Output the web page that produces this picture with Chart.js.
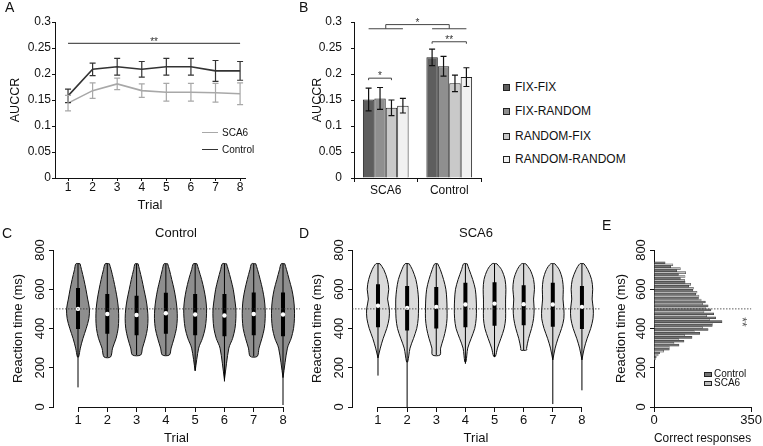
<!DOCTYPE html>
<html>
<head>
<meta charset="utf-8">
<title>AUCCR and reaction times</title>
<script src="https://cdn.jsdelivr.net/npm/chart.js@4.4.1/dist/chart.umd.min.js"></script>
<style>
  body { margin: 0; background: #fff; }
  #fig { position: relative; width: 763px; height: 446px; overflow: hidden; font-family: "Liberation Sans", Arial, sans-serif; color: #111; }
  #fig canvas { position: absolute; }
  .lbl { position: absolute; white-space: nowrap; line-height: 1; }
  .letter { font-size: 14px; }
  .ttl { font-size: 13px; transform: translateX(-50%); }
  .key { position: absolute; white-space: nowrap; line-height: 1; }
  .sw { position: absolute; border: 1px solid #222; box-sizing: border-box; }
</style>
</head>
<body>
<div id="fig">
  <canvas id="chartA" width="262" height="215" style="left:0;top:0"></canvas>
  <canvas id="chartB" width="190" height="215" style="left:300px;top:0"></canvas>
  <canvas id="chartC" width="305" height="231" style="left:0;top:215px"></canvas>
  <canvas id="chartD" width="305" height="231" style="left:300px;top:215px"></canvas>
  <canvas id="chartE" width="163" height="231" style="left:600px;top:215px"></canvas>

  <div class="lbl letter" style="left:5px;top:0">A</div>
  <div class="lbl letter" style="left:299px;top:0">B</div>
  <div class="lbl letter" style="left:2px;top:226px">C</div>
  <div class="lbl letter" style="left:299px;top:226px">D</div>
  <div class="lbl letter" style="left:602px;top:218px">E</div>
  <div class="lbl ttl" style="left:176px;top:226px">Control</div>
  <div class="lbl ttl" style="left:476px;top:226px">SCA6</div>
  <div id="legendA"></div>
  <div id="legendB"></div>
  <div id="legendE"></div>
  <div class="lbl" style="left:737px;top:316px;font-size:12px;color:#555;transform:rotate(90deg)">**</div>
</div>
<script>
const trials = [1, 2, 3, 4, 5, 6, 7, 8];

// A: AUCCR per trial
const aucControl = [0.158, 0.209, 0.214, 0.209, 0.214, 0.214, 0.206, 0.206];
const aucControlErr = [0.013, 0.012, 0.016, 0.015, 0.016, 0.016, 0.020, 0.018];
const aucSca6 = [0.144, 0.168, 0.181, 0.168, 0.165, 0.165, 0.164, 0.162];
const aucSca6Err = [0.015, 0.015, 0.011, 0.013, 0.017, 0.017, 0.018, 0.021];
const sigA = { from: 1, to: 8, level: 0.259, text: '**' };

// B: AUCCR per condition
const groups = ['SCA6', 'Control'];
const conditions = ['FIX-FIX', 'FIX-RANDOM', 'RANDOM-FIX', 'RANDOM-RANDOM'];
const fixFix = [0.151, 0.232];
const fixRandom = [0.153, 0.215];
const randomFix = [0.135, 0.182];
const randomRandom = [0.139, 0.194];
const fixFixErr = [0.022, 0.016];
const fixRandomErr = [0.021, 0.019];
const randomFixErr = [0.015, 0.016];
const randomRandomErr = [0.014, 0.018];

// C, D: reaction time violins
const rtLevels = [730, 700, 650, 600, 550, 500, 450, 400, 350, 300];
const controlWidth = [
  [0.07, 0.12, 0.20, 0.27, 0.33, 0.39, 0.37, 0.28, 0.17, 0.08],
  [0.07, 0.13, 0.21, 0.28, 0.34, 0.38, 0.39, 0.37, 0.30, 0.18],
  [0.05, 0.10, 0.18, 0.25, 0.32, 0.37, 0.39, 0.37, 0.30, 0.20],
  [0.06, 0.12, 0.20, 0.28, 0.34, 0.38, 0.39, 0.36, 0.28, 0.18],
  [0.06, 0.12, 0.22, 0.30, 0.36, 0.39, 0.38, 0.34, 0.25, 0.12],
  [0.07, 0.13, 0.22, 0.30, 0.35, 0.39, 0.39, 0.36, 0.28, 0.15],
  [0.07, 0.13, 0.22, 0.30, 0.36, 0.39, 0.39, 0.36, 0.28, 0.18],
  [0.06, 0.12, 0.21, 0.30, 0.36, 0.39, 0.39, 0.36, 0.28, 0.15]
];
const controlBase = [255, 255, 265, 265, 185, 140, 258, 150];
const controlBaseWidth = [0.02, 0.11, 0.14, 0.12, 0, 0, 0.12, 0];
const controlMin = [100, 255, 265, 265, 185, 130, 258, 10];
const controlQ1 = [398, 373, 365, 373, 365, 360, 365, 360];
const controlMedian = [500, 474, 469, 478, 471, 466, 474, 471];
const controlQ3 = [606, 576, 567, 582, 576, 576, 583, 583];

const sca6Width = [
  [0.07, 0.20, 0.32, 0.37, 0.33, 0.39, 0.38, 0.30, 0.18, 0.08],
  [0.07, 0.18, 0.30, 0.36, 0.39, 0.39, 0.38, 0.33, 0.22, 0.10],
  [0.05, 0.14, 0.25, 0.33, 0.36, 0.37, 0.37, 0.33, 0.25, 0.15],
  [0.06, 0.13, 0.25, 0.34, 0.37, 0.38, 0.37, 0.32, 0.20, 0.08],
  [0.08, 0.24, 0.36, 0.39, 0.38, 0.38, 0.38, 0.33, 0.22, 0.10],
  [0.07, 0.22, 0.34, 0.37, 0.34, 0.36, 0.34, 0.27, 0.17, 0.10],
  [0.07, 0.22, 0.33, 0.36, 0.35, 0.38, 0.38, 0.30, 0.18, 0.08],
  [0.07, 0.20, 0.33, 0.37, 0.35, 0.39, 0.38, 0.30, 0.18, 0.08]
];
const sca6Base = [250, 230, 265, 230, 258, 290, 240, 240];
const sca6BaseWidth = [0, 0.02, 0.13, 0.02, 0.03, 0.10, 0, 0];
const sca6Min = [160, 0, 265, 220, 255, 290, 15, 85];
const sca6Q1 = [406, 390, 400, 406, 414, 416, 409, 397];
const sca6Median = [516, 505, 510, 522, 527, 524, 522, 510];
const sca6Q3 = [626, 616, 612, 633, 636, 621, 633, 616];
const refRT = 500;

// E: histogram of correct responses
const rtBins = [250, 270, 290, 310, 330, 350, 370, 390, 410, 430, 450, 470, 490,
                510, 530, 550, 570, 590, 610, 630, 650, 670, 690, 710, 730];
const histControl = [8, 20, 55, 90, 108, 137, 165, 195, 210, 245, 222, 215, 205,
                     195, 185, 160, 150, 140, 125, 112, 95, 88, 82, 60, 40];
const histSca6 = [5, 15, 35, 55, 72, 88, 110, 145, 175, 210, 200, 190, 180,
                  185, 175, 170, 162, 155, 142, 132, 110, 112, 114, 95, 68];

const FONT = 'Liberation Sans, Arial, sans-serif';
const INK = '#111';
Chart.defaults.font.family = FONT;
Chart.defaults.color = INK;

// error bars for datasets that carry an "errors" array
const errorBars = {
  id: 'errorBars',
  afterDatasetsDraw(chart) {
    const ctx = chart.ctx, y = chart.scales.y;
    chart.data.datasets.forEach((ds, i) => {
      if (!ds.errors) return;
      chart.getDatasetMeta(i).data.forEach((el, j) => {
        const d = ds.data[j];
        const v = typeof d === 'object' ? d.y : d;
        const top = y.getPixelForValue(v + ds.errors[j]);
        const bot = y.getPixelForValue(v - ds.errors[j]);
        ctx.save();
        ctx.strokeStyle = ds.errorColor || '#111';
        ctx.lineWidth = 1.2;
        ctx.beginPath();
        ctx.moveTo(el.x, top); ctx.lineTo(el.x, bot);
        ctx.moveTo(el.x - 3, top); ctx.lineTo(el.x + 3, top);
        ctx.moveTo(el.x - 3, bot); ctx.lineTo(el.x + 3, bot);
        ctx.stroke();
        ctx.restore();
      });
    });
  }
};

function star(ctx, text, x, y) {
  ctx.fillStyle = '#333';
  ctx.font = '10px ' + FONT;
  ctx.textAlign = 'center';
  ctx.textBaseline = 'alphabetic';
  ctx.fillText(text, x, y);
}

const sigLineA = {
  id: 'sigLineA',
  afterDraw(chart) {
    const ctx = chart.ctx, x = chart.scales.x, y = chart.scales.y;
    const yy = y.getPixelForValue(sigA.level);
    ctx.save();
    ctx.strokeStyle = '#555';
    ctx.lineWidth = 1.3;
    ctx.beginPath();
    ctx.moveTo(x.getPixelForValue(sigA.from), yy);
    ctx.lineTo(x.getPixelForValue(sigA.to), yy);
    ctx.stroke();
    star(ctx, sigA.text, (x.getPixelForValue(sigA.from) + x.getPixelForValue(sigA.to)) / 2, yy + 2);
    ctx.restore();
  }
};

// brackets in B: within-group pairs and the group-vs-group bracket
const bPairs = [
  { group: 0, from: 0, to: 2, level: 0.192, text: '*' },
  { group: 1, from: 0, to: 3, level: 0.262, text: '**' }
];
const bGroupLevel = 0.287, bGroupTop = 0.295;

const sigBrackets = {
  id: 'sigBrackets',
  afterDraw(chart) {
    const ctx = chart.ctx, y = chart.scales.y;
    const barX = (ds, g) => chart.getDatasetMeta(ds).data[g].x;
    ctx.save();
    ctx.strokeStyle = '#444';
    ctx.lineWidth = 1;
    bPairs.forEach(p => {
      const x1 = barX(p.from, p.group), x2 = barX(p.to, p.group), yy = y.getPixelForValue(p.level);
      ctx.beginPath();
      ctx.moveTo(x1, yy + 2); ctx.lineTo(x1, yy); ctx.lineTo(x2, yy); ctx.lineTo(x2, yy + 2);
      ctx.stroke();
      star(ctx, p.text, (x1 + x2) / 2, yy + 1);
    });
    const yl = y.getPixelForValue(bGroupLevel), yt = y.getPixelForValue(bGroupTop);
    const mids = groups.map((g, gi) => {
      const x1 = barX(0, gi), x2 = barX(3, gi);
      ctx.beginPath(); ctx.moveTo(x1, yl); ctx.lineTo(x2, yl); ctx.stroke();
      return (x1 + x2) / 2;
    });
    ctx.beginPath();
    ctx.moveTo(mids[0], yl); ctx.lineTo(mids[0], yt); ctx.lineTo(mids[1], yt); ctx.lineTo(mids[1], yl);
    ctx.stroke();
    star(ctx, '*', (mids[0] + mids[1]) / 2, yt + 1);
    ctx.restore();
  }
};

// dotted reference line at refRT
const refLine = {
  id: 'refLine',
  afterDatasetsDraw(chart) {
    const ctx = chart.ctx, a = chart.chartArea, yy = chart.scales.y.getPixelForValue(refRT);
    ctx.save();
    ctx.strokeStyle = '#333';
    ctx.lineWidth = 0.8;
    ctx.setLineDash([1.5, 1.5]);
    ctx.beginPath(); ctx.moveTo(a.left, yy); ctx.lineTo(a.right, yy); ctx.stroke();
    ctx.restore();
  }
};

// R-style x axis line running from first to last trial
const trialAxis = {
  id: 'trialAxis',
  afterDraw(chart) {
    const ctx = chart.ctx, x = chart.scales.x, y = chart.scales.y;
    ctx.save();
    ctx.strokeStyle = INK;
    ctx.lineWidth = 1;
    ctx.beginPath();
    ctx.moveTo(x.getPixelForValue(trials[0]), y.bottom + 0.5);
    ctx.lineTo(x.getPixelForValue(trials[trials.length - 1]), y.bottom + 0.5);
    ctx.stroke();
    ctx.restore();
  }
};

const noPlugins = { legend: { display: false }, tooltip: { enabled: false } };

function aucAxes(yWidth, tickPad, titlePad) {
  return {
    min: 0, max: 0.3,
    ticks: { stepSize: 0.05, callback: v => String(+v.toFixed(2)), font: { size: 12 }, padding: tickPad },
    grid: { drawOnChartArea: false, tickLength: 3, color: INK },
    border: { color: INK },
    title: { display: true, text: 'AUCCR', font: { size: 12.5 }, padding: { top: titlePad, bottom: 0 } },
    afterFit: s => { s.width = yWidth; }
  };
}

// ---- A ----
new Chart(document.getElementById('chartA'), {
  type: 'scatter',
  data: {
    datasets: [
      { label: 'Control', data: trials.map((t, i) => ({ x: t, y: aucControl[i] })), errors: aucControlErr,
        errorColor: '#333', showLine: true, borderColor: '#333', borderWidth: 1.6, pointRadius: 0 },
      { label: 'SCA6', data: trials.map((t, i) => ({ x: t, y: aucSca6[i] })), errors: aucSca6Err,
        errorColor: '#a8a8a8', showLine: true, borderColor: '#a8a8a8', borderWidth: 1.6, pointRadius: 0 }
    ]
  },
  options: {
    responsive: false, animation: false,
    layout: { padding: { top: 22, right: 17, left: 0, bottom: 0 } },
    plugins: noPlugins,
    scales: {
      x: {
        type: 'linear', min: 0.47, max: 8.2,
        afterBuildTicks: s => { s.ticks = trials.map(v => ({ value: v })); },
        ticks: { font: { size: 12 }, padding: -1 },
        grid: { drawOnChartArea: false, tickLength: 3, color: INK },
        border: { color: INK },
        title: { display: true, text: 'Trial', font: { size: 13 }, padding: { top: 0, bottom: 2 } },
        afterFit: s => { s.height = 37; }
      },
      y: aucAxes(55, 1, 8)
    }
  },
  plugins: [errorBars, sigLineA]
});

// ---- B ----
const conditionColors = ['#5e5e5e', '#8f8f8f', '#c9c9c9', '#f1f1f1'];
const bMeans = [fixFix, fixRandom, randomFix, randomRandom];
const bErrs = [fixFixErr, fixRandomErr, randomFixErr, randomRandomErr];
new Chart(document.getElementById('chartB'), {
  type: 'bar',
  data: {
    labels: groups,
    datasets: conditions.map((c, i) => ({
      label: c, data: bMeans[i], errors: bErrs[i],
      backgroundColor: conditionColors[i], borderColor: '#222', borderWidth: 1,
      categoryPercentage: 0.72, barPercentage: 1
    }))
  },
  options: {
    responsive: false, animation: false,
    layout: { padding: { top: 22, right: 9, left: 0, bottom: 0 } },
    plugins: noPlugins,
    scales: {
      x: {
        ticks: { font: { size: 12 }, padding: 1 },
        grid: { offset: true, drawOnChartArea: false, tickLength: 4, color: INK },
        border: { color: INK },
        afterFit: s => { s.height = 37; }
      },
      y: aucAxes(54, 9, 10)
    }
  },
  plugins: [errorBars, sigBrackets]
});

// ---- C, D ----
function violinChart(id, widths, base, baseW, mins, q1, med, q3, fill, yWidth, titlePad, xMin, xMax) {
  const violins = trials.map((t, i) => {
    const right = rtLevels.map((lv, k) => ({ x: t + widths[i][k], y: lv }));
    const left = rtLevels.map((lv, k) => ({ x: t - widths[i][k], y: lv })).reverse();
    const pts = [...right, { x: t + baseW[i], y: base[i] }, { x: t - baseW[i], y: base[i] }, ...left, right[0]];
    return { data: pts, showLine: true, fill: 'shape', backgroundColor: fill, borderColor: '#111',
             borderWidth: 1, pointRadius: 0, tension: 0.3, order: 4 };
  });
  const sticks = (lo, hi) => {
    const pts = [];
    trials.forEach((t, i) => { pts.push({ x: t, y: lo[i] }, { x: t, y: hi[i] }, { x: t, y: null }); });
    return pts;
  };
  const tops = trials.map(() => rtLevels[0]);
  const datasets = [
    { data: trials.map((t, i) => ({ x: t, y: med[i] })), pointRadius: 2.2, pointBackgroundColor: '#fff',
      pointBorderWidth: 0, order: 0 },
    { data: sticks(q1, q3), showLine: true, borderColor: '#000', borderWidth: 4, borderCapStyle: 'butt',
      pointRadius: 0, spanGaps: false, order: 1 },
    { data: sticks(mins, tops), showLine: true, borderColor: '#000', borderWidth: 1,
      pointRadius: 0, spanGaps: false, order: 2 },
    ...violins
  ];
  return new Chart(document.getElementById(id), {
    type: 'scatter',
    data: { datasets },
    options: {
      responsive: false, animation: false,
      layout: { padding: { top: 35, right: 5, left: 0, bottom: 0 } },
      plugins: noPlugins,
      scales: {
        x: {
          type: 'linear', min: xMin, max: xMax,
          afterBuildTicks: s => { s.ticks = trials.map(v => ({ value: v })); },
          ticks: { font: { size: 13 }, padding: 1 },
          grid: { drawOnChartArea: false, tickLength: 5, color: INK },
          border: { display: false },
          title: { display: true, text: 'Trial', font: { size: 13 }, padding: { top: 0, bottom: 0 } },
          afterFit: s => { s.height = 39; }
        },
        y: rtAxis(yWidth, titlePad)
      }
    },
    plugins: [refLine, trialAxis]
  });
}

function rtAxis(yWidth, titlePad) {
  return {
    type: 'linear', min: 0, max: 800, offset: false,
    afterBuildTicks: s => { s.ticks = [0, 200, 400, 600, 800].map(v => ({ value: v })); },
    ticks: { font: { size: 13 }, minRotation: 90, maxRotation: 90, crossAlign: 'center', padding: -2 },
    grid: { drawOnChartArea: false, tickLength: 4, color: INK, offset: false },
    border: { color: INK },
    title: { display: true, text: 'Reaction time (ms)', font: { size: 13 }, padding: { top: titlePad, bottom: 0 } },
    afterFit: s => { s.width = yWidth; }
  };
}

violinChart('chartC', controlWidth, controlBase, controlBaseWidth, controlMin, controlQ1, controlMedian, controlQ3,
            '#8e8e8e', 53, 11, 0.146, 8.58);
violinChart('chartD', sca6Width, sca6Base, sca6BaseWidth, sca6Min, sca6Q1, sca6Median, sca6Q3,
            '#dadada', 52, 10, 0.108, 8.62);

// ---- E ----
new Chart(document.getElementById('chartE'), {
  type: 'bar',
  data: {
    datasets: [
      { label: 'Control', data: rtBins.map((b, i) => ({ x: histControl[i], y: b })),
        backgroundColor: '#737373', borderColor: '#333', borderWidth: 0.5, categoryPercentage: 1, barPercentage: 1 },
      { label: 'SCA6', data: rtBins.map((b, i) => ({ x: histSca6[i], y: b })),
        backgroundColor: '#bdbdbd', borderColor: '#444', borderWidth: 0.5, categoryPercentage: 1, barPercentage: 1 }
    ]
  },
  options: {
    indexAxis: 'y',
    responsive: false, animation: false,
    layout: { padding: { top: 35, right: 9, left: 0, bottom: 0 } },
    plugins: noPlugins,
    scales: {
      x: {
        type: 'linear', min: 0, max: 350,
        afterBuildTicks: s => { s.ticks = [0, 350].map(v => ({ value: v })); },
        ticks: { font: { size: 13 }, padding: 1 },
        grid: { drawOnChartArea: false, tickLength: 5, color: INK },
        border: { color: INK },
        title: { display: true, text: 'Correct responses', font: { size: 13 }, padding: { top: 0, bottom: 0 } },
        afterFit: s => { s.height = 39; }
      },
      y: rtAxis(54, 14)
    }
  },
  plugins: [refLine]
});

// ---- HTML legends ----
document.getElementById('legendA').innerHTML = [['SCA6', '#a8a8a8', 133], ['Control', '#333', 150]]
  .map(([name, col, y]) =>
    `<div class="key" style="left:202px;top:${y - 1}px;width:16px;border-top:1.6px solid ${col}"></div>` +
    `<div class="key" style="left:222px;top:${y - 5}px;font-size:10px">${name}</div>`).join('');

document.getElementById('legendB').innerHTML = conditions.map((c, i) => {
  const y = [87, 111, 136, 159][i];
  return `<div class="sw" style="left:503px;top:${y - 3}px;width:7px;height:7px;background:${conditionColors[i]}"></div>` +
         `<div class="key" style="left:515px;top:${y - 6}px;font-size:12px">${c}</div>`;
}).join('');

document.getElementById('legendE').innerHTML = [['Control', '#737373', 374], ['SCA6', '#bdbdbd', 383]]
  .map(([name, col, y]) =>
    `<div class="sw" style="left:704px;top:${y - 2}px;width:8px;height:5px;background:${col}"></div>` +
    `<div class="key" style="left:714px;top:${y - 5}px;font-size:10px">${name}</div>`).join('');
</script>
</body>
</html>
